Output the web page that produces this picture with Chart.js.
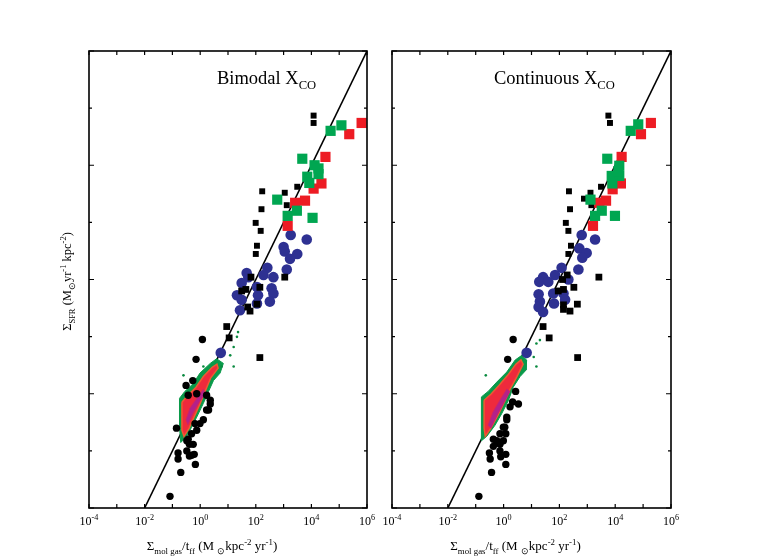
<!DOCTYPE html>
<html>
<head>
<meta charset="utf-8">
<script src="https://cdn.jsdelivr.net/npm/chart.js@4.4.1/dist/chart.umd.min.js"></script>
<style>
  body { margin: 0; background: #fff; }
  #wrap { position: relative; width: 760px; height: 560px; }
  canvas { position: absolute; top: 0; }
</style>
</head>
<body>
<div id="wrap">
  <canvas id="bimodal" width="380" height="560" style="left:0"></canvas>
  <canvas id="continuous" width="380" height="560" style="left:380px"></canvas>
</div>
<script>
// axes
const xTicks = [1e-4, 1e-3, 1e-2, 1e-1, 1e0, 1e1, 1e2, 1e3, 1e4, 1e5, 1e6];
const xLabels = ["-4", "-2", "0", "2", "4", "6"]; // exponents at 1e-4, 1e-2 ...
const yTicks = [1e-4, 1e-3, 1e-2, 1e-1, 1e0, 1e1, 1e2, 1e3, 1e4];

// fit line (eps = 1%)
const fitLine = [[1e-2, 1e-4], [1e6, 1e4]];

// ---- Bimodal X_CO ----
const bimodalBlackSmallSq = [[1.2e4, 740], [1.2e4, 550], [170, 35], [1.1e3, 33], [3.1e3, 42], [1.3e3, 20], [160, 17], [99, 9.8], [150, 7.1], [110, 3.9], [100, 2.8]];
const bimodalGreenSq = [[4.9e4, 400], [1.2e5, 500], [4.7e3, 130], [1.3e4, 100], [1.8e4, 88], [7.1e3, 63], [1.8e4, 70], [8.4e3, 49], [590, 25], [3.0e3, 16], [1.4e3, 13], [1.1e4, 12]];
const bimodalRedSq = [[6.4e5, 550], [2.3e5, 350], [3.2e4, 140], [2.3e4, 48], [1.2e4, 39], [5.9e3, 24], [2.6e3, 22], [1.4e3, 8.7]];
const bimodalBlue = [[1.8e3, 6.0], [6.8e3, 5.0], [1.0e3, 3.7], [1.1e3, 3.1], [3.1e3, 2.8], [1.7e3, 2.3], [260, 1.6], [1.3e3, 1.5], [190, 1.2], [430, 1.1], [54, 1.1], [47, 1.3], [31, 0.87], [110, 0.74], [370, 0.70], [21, 0.53], [120, 0.53], [430, 0.57], [320, 0.41], [31, 0.44], [110, 0.38], [27, 0.29], [5.5, 0.052]];
const bimodalBlackSq = [[67, 1.1], [1.1e3, 1.1], [140, 0.73], [31, 0.63], [44, 0.67], [110, 0.37], [51, 0.33], [62, 0.28], [9.0, 0.15], [11, 0.095], [140, 0.043]];
const bimodalBlackCirc = [[1.2, 0.089], [0.71, 0.040], [0.54, 0.017], [0.31, 0.014], [0.75, 0.010], [0.37, 9.4e-3], [1.7, 9.4e-3], [2.3, 7.7e-3], [2.3, 6.6e-3], [1.7, 5.2e-3], [2.0, 5.2e-3], [1.3, 3.5e-3], [0.98, 3.0e-3], [0.65, 3.0e-3], [0.75, 2.3e-3], [0.49, 2.0e-3], [0.37, 1.6e-3], [0.33, 1.5e-3], [0.56, 1.3e-3], [0.41, 1.3e-3], [0.14, 2.5e-3], [0.33, 1.0e-3], [0.49, 8.4e-4], [0.16, 9.2e-4], [0.16, 7.2e-4], [0.61, 8.7e-4], [0.41, 8.1e-4], [0.67, 5.8e-4], [0.20, 4.2e-4], [0.082, 1.6e-4]];
const bimodalBlobOuter = [[0.18, 8.3e-3], [0.28, 0.011], [0.56, 0.015], [0.98, 0.023], [2.3, 0.034], [3.9, 0.041], [6.8, 0.034], [5.2, 0.023], [3.0, 0.017], [2.0, 0.011], [1.3, 6.8e-3], [0.75, 3.9e-3], [0.49, 2.6e-3], [0.33, 1.8e-3], [0.20, 1.4e-3], [0.18, 2.6e-3], [0.18, 8.3e-3]];
const bimodalBlobInner = [[0.22, 7.1e-3], [0.36, 9.4e-3], [0.71, 0.013], [1.3, 0.020], [2.7, 0.029], [4.0, 0.033], [4.4, 0.028], [2.4, 0.019], [1.5, 0.011], [0.98, 6.6e-3], [0.60, 3.9e-3], [0.40, 2.5e-3], [0.26, 1.8e-3], [0.22, 2.3e-3], [0.22, 7.1e-3]];
const bimodalBlobCore = [[0.31, 3.5e-3], [0.43, 5.6e-3], [0.77, 8.4e-3], [1.3, 0.012], [1.5, 0.010], [0.91, 7.1e-3], [0.55, 4.6e-3], [0.36, 2.9e-3], [0.31, 3.5e-3]];
const bimodalGreenDots = [[23, 0.12], [21, 0.099], [16, 0.066], [12, 0.047], [5.9, 0.030], [16, 0.030], [0.25, 0.021], [1.3, 0.030]];

// ---- Continuous X_CO ----
const continuousBlackSmallSq = [[5.7e3, 740], [6.5e3, 550], [220, 35], [1.3e3, 33], [3.1e3, 42], [760, 26], [1.4e3, 20], [240, 17], [170, 9.8], [210, 7.1], [260, 3.9], [210, 2.8]];
const continuousGreenSq = [[3.6e4, 400], [6.7e4, 520], [5.2e3, 130], [1.4e4, 98], [7.5e3, 65], [1.4e4, 65], [7.9e3, 48], [1.3e3, 25], [3.3e3, 16], [1.9e3, 13], [9.8e3, 13], [1.3e4, 79]];
const continuousRedSq = [[1.9e5, 550], [8.4e4, 350], [1.7e4, 140], [1.6e4, 48], [8.1e3, 38], [4.7e3, 24], [2.7e3, 22], [1.6e3, 8.7]];
const continuousBlue = [[630, 6.0], [1.9e3, 5.0], [520, 3.5], [950, 2.9], [660, 2.4], [120, 1.6], [480, 1.5], [70, 1.2], [26, 1.1], [19, 0.91], [40, 0.91], [210, 1.0], [18, 0.55], [60, 0.57], [140, 0.57], [20, 0.41], [160, 0.44], [64, 0.38], [18, 0.33], [26, 0.27], [6.7, 0.052]];
const continuousBlackSq = [[190, 1.2], [130, 1.0], [2.6e3, 1.1], [330, 0.73], [140, 0.67], [91, 0.63], [440, 0.37], [140, 0.36], [140, 0.30], [240, 0.28], [26, 0.15], [43, 0.095], [450, 0.043]];
const continuousBlackCirc = [[2.2, 0.089], [1.4, 0.040], [2.7, 0.011], [3.4, 6.6e-3], [2.1, 7.2e-3], [1.7, 5.9e-3], [1.3, 3.9e-3], [1.3, 3.5e-3], [1.1, 2.6e-3], [0.98, 2.6e-3], [0.74, 2.0e-3], [1.2, 2.0e-3], [0.43, 1.6e-3], [0.65, 1.4e-3], [0.74, 1.3e-3], [0.57, 1.5e-3], [0.98, 1.5e-3], [0.43, 1.2e-3], [0.74, 1.0e-3], [0.31, 9.2e-4], [0.33, 7.2e-4], [1.2, 8.7e-4], [0.79, 7.9e-4], [1.2, 5.8e-4], [0.37, 4.2e-4], [0.13, 1.6e-4]];
const continuousBlobOuter = [[0.16, 8.8e-3], [0.28, 0.011], [0.57, 0.016], [1.3, 0.024], [2.6, 0.039], [4.5, 0.047], [6.7, 0.039], [6.4, 0.026], [3.9, 0.020], [2.2, 0.013], [1.5, 7.7e-3], [0.86, 4.5e-3], [0.49, 2.8e-3], [0.25, 1.8e-3], [0.16, 1.5e-3], [0.16, 3.5e-3], [0.16, 8.8e-3]];
const continuousBlobInner = [[0.20, 7.7e-3], [0.35, 9.8e-3], [0.68, 0.014], [1.4, 0.021], [2.8, 0.033], [4.2, 0.039], [5.0, 0.033], [3.0, 0.020], [1.7, 0.012], [1.1, 7.4e-3], [0.63, 4.2e-3], [0.35, 2.5e-3], [0.22, 1.8e-3], [0.20, 2.5e-3], [0.20, 7.7e-3]];
const continuousBlobCore = [[0.28, 2.8e-3], [0.42, 4.8e-3], [0.74, 7.7e-3], [1.3, 0.012], [1.7, 0.011], [1.0, 6.8e-3], [0.58, 4.2e-3], [0.35, 2.5e-3], [0.28, 2.8e-3]];
const continuousGreenDots = [[20, 0.087], [15, 0.076], [12, 0.044], [15, 0.030], [0.23, 0.021], [6.7, 0.044]];

const FONT = '"Liberation Serif", "Times New Roman", serif';

function pts(arr) {
  return arr.map(p => ({ x: p[0], y: p[1] }));
}

// draw text with sub/superscripts: parts = [[text, kind]]
function drawRich(ctx, parts, x, y, size, align) {
  let w = 0;
  parts.forEach(p => {
    ctx.font = (p[1] ? size * 0.68 : size) + "px " + FONT;
    w += ctx.measureText(p[0]).width;
  });
  let cx = align === "center" ? x - w / 2 : x;
  parts.forEach(p => {
    let fs = p[1] ? size * 0.68 : size;
    ctx.font = fs + "px " + FONT;
    let dy = 0;
    if (p[1] === "sup") dy = -size * 0.42;
    if (p[1] === "sub") dy = size * 0.28;
    ctx.fillText(p[0], cx, y + dy);
    cx += ctx.measureText(p[0]).width;
  });
}

function framePlugin(cfg) {
  return {
    id: "frame",
    afterDraw(chart) {
      const ctx = chart.ctx;
      const a = chart.chartArea;
      const x = chart.scales.x;
      const y = chart.scales.y;
      ctx.save();
      ctx.strokeStyle = "#000";
      ctx.fillStyle = "#000";
      ctx.lineWidth = 1.6;
      ctx.strokeRect(a.left, a.top, a.right - a.left, a.bottom - a.top);

      // inward ticks
      ctx.lineWidth = 1.2;
      ctx.beginPath();
      xTicks.forEach(v => {
        let px = x.getPixelForValue(v);
        ctx.moveTo(px, a.bottom); ctx.lineTo(px, a.bottom - 4);
        ctx.moveTo(px, a.top); ctx.lineTo(px, a.top + 4);
      });
      yTicks.forEach((v, i) => {
        let py = y.getPixelForValue(v);
        let len = i % 2 === 0 ? 5 : 3;
        ctx.moveTo(a.left, py); ctx.lineTo(a.left + len, py);
        ctx.moveTo(a.right, py); ctx.lineTo(a.right - len, py);
      });
      ctx.stroke();

      // tick labels
      ctx.textAlign = "left";
      ctx.textBaseline = "alphabetic";
      xLabels.forEach((e, i) => {
        let px = x.getPixelForValue(xTicks[i * 2]);
        drawRich(ctx, [["10", ""], [e, "sup"]], px, a.bottom + 17, 12, "center");
      });

      // x title
      drawRich(ctx, [["\u03A3", ""], ["mol gas", "sub"], ["/t", ""], ["ff", "sub"], [" (M ", ""], ["\u2299", "sub"],
        ["kpc", ""], ["-2", "sup"], [" yr", ""], ["-1", "sup"], [")", ""]],
        (a.left + a.right) / 2 - 16, a.bottom + 42, 13, "center");

      // y title
      if (cfg.yTitle) {
        ctx.save();
        ctx.translate(a.left - 18, (a.top + a.bottom) / 2 + 2);
        ctx.rotate(-Math.PI / 2);
        drawRich(ctx, [["\u03A3", ""], ["SFR", "sub"], [" (M", ""], ["\u2299", "sub"], ["yr", ""], ["-1", "sup"],
          [" kpc", ""], ["-2", "sup"], [")", ""]], 0, 0, 12.5, "center");
        ctx.restore();
      }

      // panel label
      drawRich(ctx, [[cfg.label + " X", ""], ["CO", "sub"]], cfg.labelX, 84, 18.5, "left");
      ctx.restore();
    }
  };
}

function makeChart(id, d, cfg) {
  const green = "#00a651";
  const red = "#ed1c24";
  const blue = "#2e3192";
  const datasets = [
    { type: "line", data: pts(fitLine), showLine: true, fill: false, borderColor: "#000", borderWidth: 1.6, pointRadius: 0, order: 13 },
    { type: "line", data: pts(d.blobOuter), showLine: true, fill: "shape", backgroundColor: "#0a9a4a", borderColor: "#0a9a4a", borderWidth: 1, pointRadius: 0, tension: 0, order: 12 },
    { type: "line", data: pts(d.blobInner), showLine: true, fill: "shape", backgroundColor: "#ee2a3c", borderColor: "#ef5a30", borderWidth: 1.5, pointRadius: 0, tension: 0, order: 11 },
    { type: "line", data: pts(d.blobCore), showLine: true, fill: "shape", backgroundColor: "#b3218a", borderColor: "#c8246e", borderWidth: 1, pointRadius: 0, tension: 0, order: 10 },
    { data: pts(d.greenDots), pointStyle: "circle", pointRadius: 1.3, backgroundColor: "#0a8a40", borderWidth: 0, order: 9 },
    { data: pts(d.blackCirc), pointStyle: "circle", pointRadius: 3.7, backgroundColor: "#000", borderWidth: 0, order: 8 },
    { data: pts(d.blue), pointStyle: "circle", pointRadius: 5.3, backgroundColor: blue, borderWidth: 0, order: 6 },
    { data: pts(d.blackSq), pointStyle: "rect", pointRadius: 4.8, backgroundColor: "#000", borderWidth: 0, order: 5 },
    { data: pts(d.blackSmallSq), pointStyle: "rect", pointRadius: 4.2, backgroundColor: "#000", borderWidth: 0, order: 4 },
    { data: pts(d.redSq), pointStyle: "rect", pointRadius: 7.2, backgroundColor: red, borderWidth: 0, order: 3 },
    { data: pts(d.greenSq), pointStyle: "rect", pointRadius: 7.2, backgroundColor: green, borderWidth: 0, order: 2 }
  ];
  return new Chart(document.getElementById(id), {
    type: "scatter",
    data: { datasets: datasets },
    options: {
      responsive: false,
      animation: false,
      devicePixelRatio: 1,
      layout: { padding: cfg.padding },
      scales: {
        x: { type: "logarithmic", min: 1e-4, max: 1e6, display: false },
        y: { type: "logarithmic", min: 1e-4, max: 1e4, display: false }
      },
      plugins: { legend: { display: false }, tooltip: { enabled: false } }
    },
    plugins: [framePlugin(cfg)]
  });
}

makeChart("bimodal", {
  blobOuter: bimodalBlobOuter, blobInner: bimodalBlobInner, blobCore: bimodalBlobCore,
  greenDots: bimodalGreenDots, blackCirc: bimodalBlackCirc, blue: bimodalBlue,
  blackSq: bimodalBlackSq, blackSmallSq: bimodalBlackSmallSq, redSq: bimodalRedSq, greenSq: bimodalGreenSq
}, { padding: { left: 89, right: 13, top: 51, bottom: 52 }, yTitle: true, label: "Bimodal", labelX: 217 });

makeChart("continuous", {
  blobOuter: continuousBlobOuter, blobInner: continuousBlobInner, blobCore: continuousBlobCore,
  greenDots: continuousGreenDots, blackCirc: continuousBlackCirc, blue: continuousBlue,
  blackSq: continuousBlackSq, blackSmallSq: continuousBlackSmallSq, redSq: continuousRedSq, greenSq: continuousGreenSq
}, { padding: { left: 12, right: 89, top: 51, bottom: 52 }, yTitle: false, label: "Continuous", labelX: 114 });
</script>
</body>
</html>
